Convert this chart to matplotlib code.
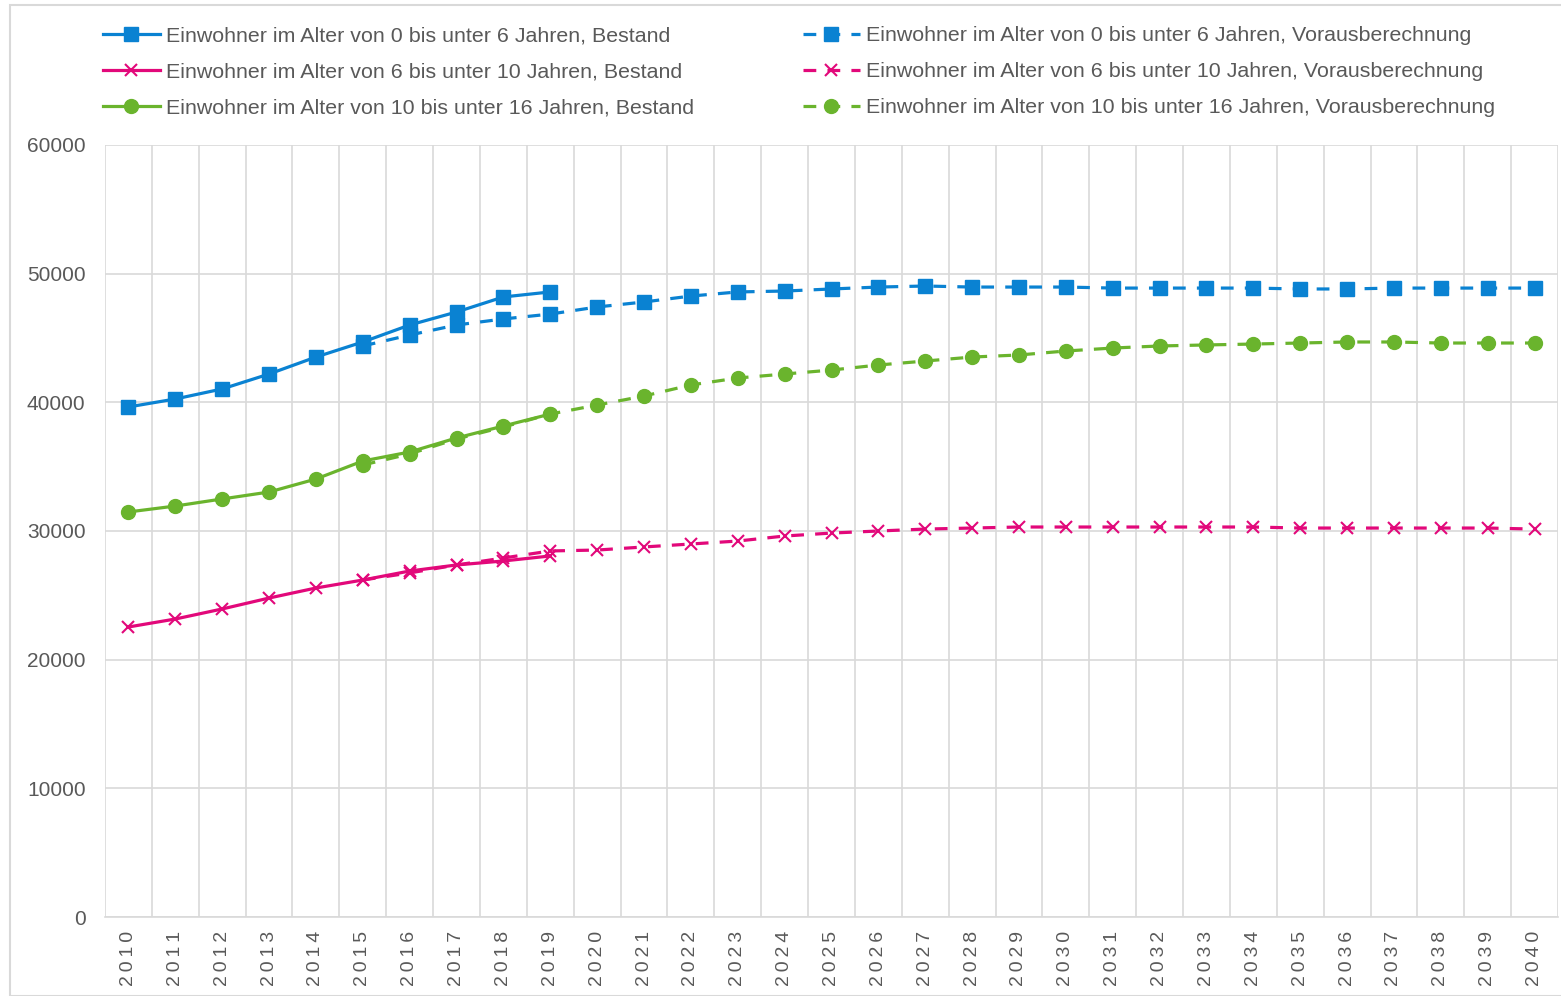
import matplotlib.pyplot as plt
from matplotlib.patches import Rectangle
from matplotlib.ticker import MultipleLocator

plt.rcParams['font.family'] = ['Liberation Sans', 'DejaVu Sans']

years = list(range(2010, 2041))

# Bestand (2010-2019)
best_0_6 = [39640, 40260, 41040, 42200, 43520, 44690, 46010, 47020, 48190, 48580]
best_6_10 = [22540, 23160, 23940, 24790, 25570, 26190, 26890, 27360, 27670, 28060]
best_10_16 = [31480, 31940, 32490, 33030, 34040, 35440, 36140, 37230, 38160, 39090]

# Vorausberechnung (2015-2040)
vor_0_6 = [44380, 45230, 46010, 46480, 46860, 47410, 47800, 48260, 48580, 48650,
           48810, 48960, 49040, 48960, 48960, 48960, 48880, 48880, 48880, 48880,
           48810, 48810, 48880, 48880, 48880, 48880]
vor_6_10 = [26190, 26740, 27360, 27900, 28450, 28520, 28760, 28990, 29220, 29610,
            29840, 30000, 30150, 30230, 30310, 30310, 30310, 30310, 30310, 30310,
            30230, 30230, 30230, 30230, 30230, 30150]
vor_10_16 = [35130, 35990, 37150, 38080, 39090, 39790, 40490, 41350, 41890, 42200,
             42510, 42900, 43210, 43520, 43680, 43990, 44220, 44380, 44460, 44530,
             44610, 44690, 44690, 44610, 44610, 44610]

labels_best = [
    "Einwohner im Alter von 0 bis unter 6 Jahren, Bestand",
    "Einwohner im Alter von 6 bis unter 10 Jahren, Bestand",
    "Einwohner im Alter von 10 bis unter 16 Jahren, Bestand",
]
labels_vor = [
    "Einwohner im Alter von 0 bis unter 6 Jahren, Vorausberechnung",
    "Einwohner im Alter von 6 bis unter 10 Jahren, Vorausberechnung",
    "Einwohner im Alter von 10 bis unter 16 Jahren, Vorausberechnung",
]

BLUE = "#0A82D2"
PINK = "#E2087A"
GREEN = "#6AB42D"
TXT = "#595959"
GRID = "#D9D9D9"

W, H = 1561, 996
fig = plt.figure(figsize=(W / 100, H / 100), dpi=100)
fig.patches.append(Rectangle((10 / W, 0), 1.0, 1 - 5 / H, transform=fig.transFigure,
                             fill=False, edgecolor=GRID, lw=1.5))
ax = fig.add_axes([105 / W, 1 - 917 / H, (1558 - 105) / W, (917 - 145) / H])

x_best = list(range(0, 10))
x_vor = list(range(5, 31))

styles = [
    (BLUE, "s", 10, best_0_6, vor_0_6),
    (PINK, "x", 9, best_6_10, vor_6_10),
    (GREEN, "o", 10, best_10_16, vor_10_16),
]

h_best, h_vor = [], []
for color, mk, ms, b, v in styles:
    mew = 1.5 if mk == "x" else 1
    lv, = ax.plot(x_vor, v, color=color, lw=2.3, ls=(0, (4, 3.5)), marker=mk,
                  ms=ms, mew=mew, zorder=3)
    lb, = ax.plot(x_best, b, color=color, lw=2.3, marker=mk, ms=ms, mew=mew, zorder=4)
    h_best.append(lb)
    h_vor.append(lv)

ax.set_xlim(-0.5, 30.5)
ax.set_ylim(0, 60000)
ax.yaxis.set_major_locator(MultipleLocator(10000))
ax.set_xticks(range(31))
# Excel spreads the rotated digits out a little
ax.set_xticklabels(["\u2009".join(str(y)) for y in years], rotation=90, fontsize=14)
ax.set_xticks([i + 0.5 for i in range(-1, 31)], minor=True)
ax.grid(True, which="major", axis="y", color=GRID, lw=1.2)
ax.grid(True, which="minor", axis="x", color=GRID, lw=1.2)
ax.set_axisbelow(True)
for s in ["top", "right", "left"]:
    ax.spines[s].set_visible(False)
ax.spines["bottom"].set_color(GRID)
ax.spines["bottom"].set_linewidth(1.2)
ax.tick_params(axis="both", which="both", length=0, colors=TXT)
ax.tick_params(axis="y", pad=14, labelsize=15)
ax.tick_params(axis="x", pad=10)

leg_kw = dict(frameon=False, fontsize=15.4, handlelength=2.65, handletextpad=0.3,
              labelspacing=0.8, borderaxespad=0, borderpad=0, labelcolor=TXT,
              loc="upper left", bbox_transform=fig.transFigure)
leg1 = ax.legend(h_best, labels_best, bbox_to_anchor=(103 / W, 1 - 26 / H), **leg_kw)
ax.add_artist(leg1)
ax.legend(h_vor, labels_vor, bbox_to_anchor=(803 / W, 1 - 26 / H), **leg_kw)

fig.savefig("out.png", dpi=100)
